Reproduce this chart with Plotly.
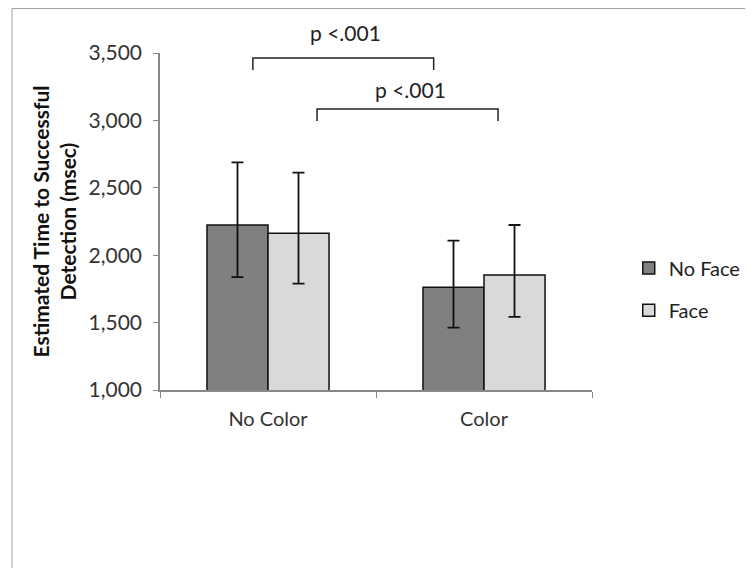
import plotly.graph_objects as go

categories = ['No Color', 'Color']
no_face = [2224, 1762]
no_face_err_plus = [465, 346]
no_face_err_minus = [386, 300]
face = [2162, 1853]
face_err_plus = [450, 371]
face_err_minus = [373, 311]

y_ticks = [1000, 1500, 2000, 2500, 3000, 3500]
y_ticklabels = ['1,000', '1,500', '2,000', '2,500', '3,000', '3,500']

# brackets: (x_left, x_right, y_top, y_end) in data units
brackets = [(-0.07, 0.767, 3463, 3374),
            (0.227, 1.065, 3084, 2995)]
# labels: (x, y in paper units)
bracket_labels = [(0.358, 1.062), (0.66, 0.893)]

FONT = 'Lato, Open Sans, sans-serif'

fig = go.Figure()

fig.add_trace(go.Bar(x=categories, y=no_face, name='No Face', legend='legend',
                     marker=dict(color='#808080', line=dict(color='#111111', width=1.5)),
                     error_y=dict(type='data', symmetric=False, array=no_face_err_plus,
                                  arrayminus=no_face_err_minus, color='#111111',
                                  thickness=1.8, width=6)))
fig.add_trace(go.Bar(x=categories, y=face, name='Face', legend='legend2',
                     marker=dict(color='#d9d9d9', line=dict(color='#111111', width=1.5)),
                     error_y=dict(type='data', symmetric=False, array=face_err_plus,
                                  arrayminus=face_err_minus, color='#111111',
                                  thickness=1.8, width=6)))

# significance brackets
for x0, x1, yt, ye in brackets:
    fig.add_shape(type='path', xref='x', yref='y',
                  path=f'M {x0},{ye} L {x0},{yt} L {x1},{yt} L {x1},{ye}',
                  line=dict(color='#222222', width=1.5))
for lx, ly in bracket_labels:
    fig.add_annotation(x=lx, y=ly, xref='x', yref='paper', text='p <.001',
                       showarrow=False, yanchor='middle',
                       font=dict(size=21, color='#222222', family=FONT))

# outer chart border
fig.add_shape(type='rect', xref='paper', yref='paper', x0=-0.3426, x1=1.6, y0=-0.7, y1=1.1320,
              line=dict(color='#a0a0a0', width=1), layer='below')

legend_style = dict(xanchor='left', yanchor='middle', bgcolor='rgba(0,0,0,0)',
                    font=dict(size=20, color='#222222', family=FONT), itemwidth=30)

fig.update_layout(
    width=745, height=560,
    margin=dict(l=152, r=161, t=45, b=178, autoexpand=False),
    paper_bgcolor='white', plot_bgcolor='white',
    barmode='group', bargap=0.435, bargroupgap=0,
    font=dict(family=FONT, size=20, color='#333333'),
    showlegend=True,
    legend=dict(x=1.085, y=0.362, **legend_style),
    legend2=dict(x=1.085, y=0.237, **legend_style),
    xaxis=dict(type='category', range=[-0.5, 1.5], showline=True, linecolor='#888888',
               linewidth=1.5, ticks='outside', tickson='boundaries', ticklen=6,
               tickcolor='#888888', showgrid=False, ticklabelstandoff=10,
               tickfont=dict(size=20, color='#333333')),
    yaxis=dict(range=[1000, 3500], tickvals=y_ticks, ticktext=y_ticklabels,
               showline=True, linecolor='#888888', linewidth=1.5, ticks='outside',
               ticklen=5, tickcolor='#888888', showgrid=False, zeroline=False,
               ticklabelstandoff=7, tickfont=dict(size=21, color='#333333'),
               title=dict(text='<b>Estimated Time to Successful<br>Detection (msec)</b>',
                          font=dict(size=21, color='#111111', family=FONT), standoff=6)),
)

fig.write_html('out.html')
